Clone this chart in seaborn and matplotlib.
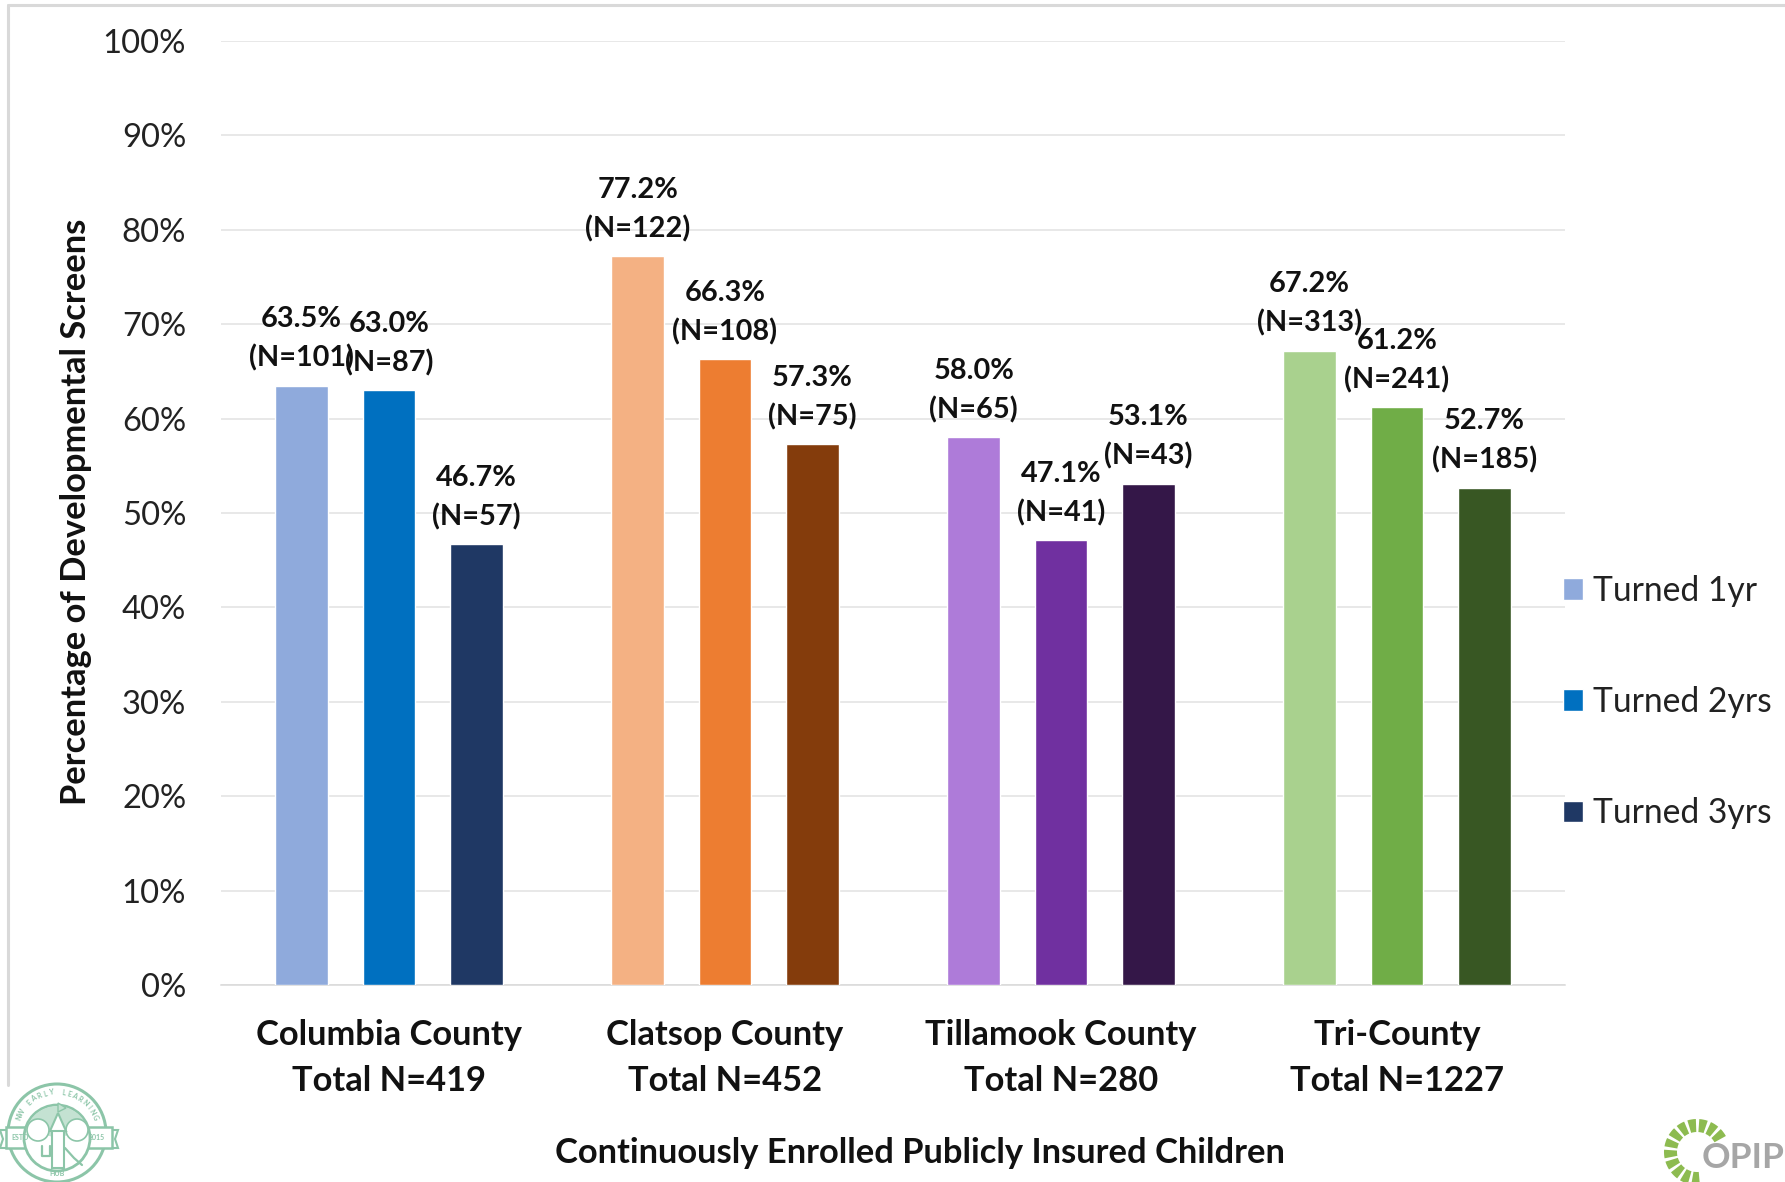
import numpy as np
import pandas as pd
import seaborn as sns
import matplotlib.pyplot as plt
from matplotlib.patches import Circle, Rectangle, Wedge, Polygon

counties = ['Columbia County\nTotal N=419', 'Clatsop County\nTotal N=452',
            'Tillamook County\nTotal N=280', 'Tri-County\nTotal N=1227']
ages = ['Turned 1yr', 'Turned 2yrs', 'Turned 3yrs']

turned_1yr = [63.5, 77.2, 58.0, 67.2]
turned_2yrs = [63.0, 66.3, 47.1, 61.2]
turned_3yrs = [46.7, 57.3, 53.1, 52.7]

n_1yr = [101, 122, 65, 313]
n_2yrs = [87, 108, 41, 241]
n_3yrs = [57, 75, 43, 185]

colors_1yr = ['#8FAADC', '#F4B183', '#AE7BD9', '#A9D18E']
colors_2yrs = ['#0070C0', '#ED7D31', '#7030A0', '#70AD47']
colors_3yrs = ['#1F3864', '#843C0C', '#341748', '#385723']

y_ticks = list(range(0, 101, 10))

df = pd.DataFrame({
    'county': counties * 3,
    'age': [a for a in ages for _ in counties],
    'pct': turned_1yr + turned_2yrs + turned_3yrs,
})

sns.set_theme(style='white')
plt.rcParams['font.family'] = ['Lato', 'DejaVu Sans']

W, H = 1785, 1182
fig = plt.figure(figsize=(W / 100, H / 100), dpi=100)

# pixel coordinate layer for the frame and the two logos (y runs downwards)
bg = fig.add_axes([0, 0, 1, 1], zorder=0)
bg.set_xlim(0, W)
bg.set_ylim(H, 0)
bg.axis('off')
bg.plot([8, 8], [5, 1085], color='#D9D9D9', lw=2.2)
bg.plot([8, W], [5, 5], color='#D9D9D9', lw=2.2)

# NW Early Learning Hub logo
green = '#8CC5A8'
bg.add_patch(Circle((57, 1133), 49, fc='white', ec=green, lw=2.2))
bg.add_patch(Polygon([(0, 1130), (7, 1130), (7, 1148), (0, 1148), (3, 1139)], fc='white', ec=green, lw=1.5))
bg.add_patch(Polygon([(118, 1130), (111, 1130), (111, 1148), (118, 1148), (115, 1139)], fc='white', ec=green, lw=1.5))
bg.add_patch(Rectangle((6, 1127), 106, 21, fc='white', ec=green, lw=1.8))
bg.add_patch(Circle((57, 1138), 33, fc='white', ec=green, lw=2))
bg.add_patch(Wedge((57, 1138), 32, 195, 345, fc='#C4E2D2', ec='none'))
bg.add_patch(Circle((38, 1130), 11, fc='white', ec=green, lw=1.2))
bg.add_patch(Circle((77, 1130), 11, fc='white', ec=green, lw=1.2))
bg.add_patch(Rectangle((52, 1130), 12, 38, fc='white', ec=green, lw=1.5))
bg.add_patch(Polygon([(58, 1113), (50, 1131), (66, 1131)], fc='white', ec=green, lw=1.5))
bg.add_patch(Polygon([(58, 1112), (58, 1103), (66, 1108)], fc='#C4E2D2', ec=green, lw=1))
bg.plot([42, 42, 50, 50], [1146, 1156, 1156, 1146], color=green, lw=1.6)
bg.plot([65, 74, 82], [1148, 1158, 1165], color=green, lw=1.6)
bg.text(20, 1138, 'ESTD', fontsize=5, color=green, ha='center', va='center', weight='bold')
bg.text(97, 1138, '2015', fontsize=5, color=green, ha='center', va='center', weight='bold')
bg.text(57, 1173, 'HUB', fontsize=5, color=green, ha='center', va='center', weight='bold')
arc_text = 'NW EARLY LEARNING'
for i, ch in enumerate(arc_text):
    a = np.radians(-90 + (i - (len(arc_text) - 1) / 2) * 8.5)
    bg.text(57 + 41 * np.cos(a), 1133 + 41 * np.sin(a), ch, fontsize=5, color=green, weight='bold',
            ha='center', va='center', rotation=-np.degrees(a) - 90)

# OPIP logo
for start in range(85, 320, 21):
    bg.add_patch(Wedge((1697, 1152), 33, start, start + 15, width=13, fc='#8DBB50', ec='none'))
bg.text(1743, 1158, 'OPIP', fontsize=25.5, color='#A6A6A6', ha='center', va='center', weight='bold')

ax = fig.add_axes([221 / W, 1 - 985 / H, 1344 / W, 944 / H], zorder=1)
ax.patch.set_alpha(0)

sns.barplot(data=df, x='county', y='pct', hue='age', order=counties, hue_order=ages,
            palette=[colors_1yr[0], colors_2yrs[0], colors_3yrs[0]],
            width=0.78, gap=0.40, saturation=1, ax=ax, zorder=3)

all_colors = [colors_1yr, colors_2yrs, colors_3yrs]
all_vals = [turned_1yr, turned_2yrs, turned_3yrs]
all_n = [n_1yr, n_2yrs, n_3yrs]
for container, cols, vals, ns in zip(ax.containers, all_colors, all_vals, all_n):
    for bar, c, v, n in zip(container, cols, vals, ns):
        bar.set_facecolor(c)
        ax.annotate(f'{v:.1f}%\n(N={n})', (bar.get_x() + bar.get_width() / 2, bar.get_height()),
                    xytext=(0, 10), textcoords='offset points', ha='center', va='bottom',
                    fontsize=20.8, weight='bold', color='#111111', linespacing=1.56, zorder=5)

ax.set_xlim(-0.5, 3.5)
ax.set_ylim(0, 100)
ax.set_yticks(y_ticks)
ax.set_yticklabels([f'{t}%' for t in y_ticks])
ax.yaxis.grid(True, color='#E2E2E2', lw=1.1)
ax.set_axisbelow(True)
for side in ['top', 'right', 'left']:
    ax.spines[side].set_visible(False)
ax.spines['bottom'].set_color('#D9D9D9')
ax.spines['bottom'].set_linewidth(1.1)
ax.tick_params(axis='y', length=0, pad=25, labelsize=23.6, labelcolor='#222222')
ax.tick_params(axis='x', length=0, pad=24.5, labelsize=24.8)
for lab in ax.get_xticklabels():
    lab.set_fontweight('bold')
    lab.set_color('#111111')
    lab.set_linespacing(1.52)

ax.set_xlabel('Continuously Enrolled Publicly Insured Children', fontsize=24.8, weight='bold',
              color='#111111', va='center')
ax.xaxis.set_label_coords(0.52, -0.178)
ax.set_ylabel('Percentage of Developmental Screens', fontsize=24.8, weight='bold',
              color='#111111', va='center')
ax.yaxis.set_label_coords(-0.108, 0.5016)

ax.legend(loc='center left', bbox_to_anchor=(1563 / W, 1 - 702 / H), bbox_transform=fig.transFigure,
          frameon=False, fontsize=24.2, labelcolor='#222222', handlelength=0.6, handleheight=0.6,
          handletextpad=0.28, labelspacing=2.36, borderpad=0, borderaxespad=0)

fig.savefig('out.png', dpi=100)
